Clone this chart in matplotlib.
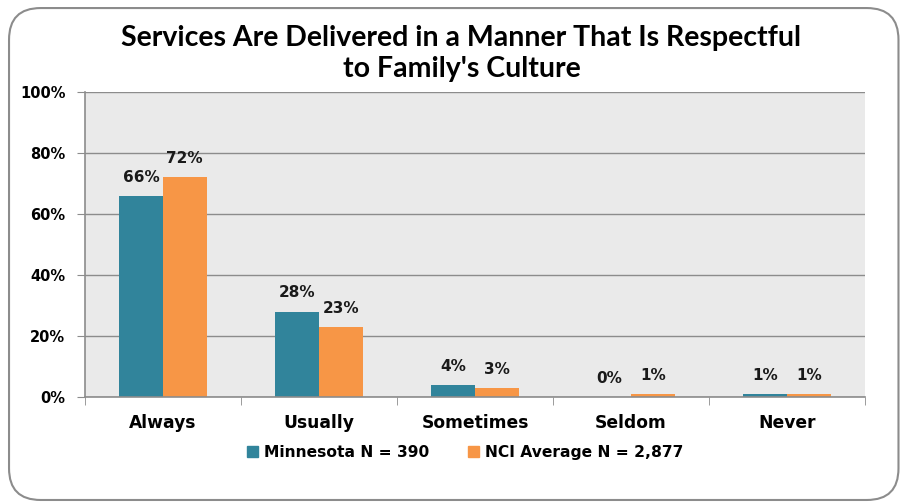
import matplotlib
matplotlib.use('Agg')

import matplotlib.pyplot as plt
from matplotlib.patches import FancyBboxPatch, Patch
import numpy as np

categories = ['Always', 'Usually', 'Sometimes', 'Seldom', 'Never']
minnesota = [66, 28, 4, 0, 1]
nci_avg = [72, 23, 3, 1, 1]
series_names = ['Minnesota N = 390', 'NCI Average N = 2,877']

teal = '#31849B'
orange = '#F79646'

fig = plt.figure(figsize=(9.03, 5.03), dpi=100)

# rounded chart frame
frame = FancyBboxPatch((0.010, 0.006), 0.985, 0.978, boxstyle='round,pad=0,rounding_size=0.035',
                       transform=fig.transFigure, facecolor='white', edgecolor='#8C8C8C',
                       linewidth=1.5, mutation_aspect=903/503, zorder=-5)
fig.patches.append(frame)

ax = fig.add_axes([0.094, 0.211, 0.864, 0.606])
ax.set_zorder(2)
ax.set_facecolor('#EAEAEA')

x = np.arange(len(categories))
w = 0.28
b1 = ax.bar(x - w/2, minnesota, w, color=teal, label=series_names[0], zorder=3)
b2 = ax.bar(x + w/2, nci_avg, w, color=orange, label=series_names[1], zorder=3)

for bars, vals in ((b1, minnesota), (b2, nci_avg)):
    for bar, v in zip(bars, vals):
        ax.annotate(f'{v}%', (bar.get_x() + bar.get_width()/2, v), xytext=(0, 8),
                    textcoords='offset points', ha='center', va='bottom',
                    fontsize=11, fontweight='bold', color='#1A1A1A')

ax.set_xlim(-0.5, len(categories) - 0.5)
ax.set_ylim(0, 100)
ax.set_yticks(range(0, 101, 20))
ax.set_yticklabels([f'{t}%' for t in range(0, 101, 20)], fontsize=10.5, fontweight='bold')
ax.set_xticks(x)
ax.set_xticklabels(categories, fontsize=12.3, fontweight='bold')
ax.tick_params(axis='x', length=0, pad=12)
ax.tick_params(axis='y', length=6, color='#8C8C8C', pad=8)
ax.set_xticks(np.arange(-0.5, len(categories)), minor=True)
ax.tick_params(axis='x', which='minor', length=6, color='#8C8C8C')
ax.grid(axis='y', color='#8C8C8C', linewidth=1, zorder=1)
ax.set_axisbelow(True)
for s in ('top', 'right'):
    ax.spines[s].set_visible(False)
for s in ('left', 'bottom'):
    ax.spines[s].set_color('#8C8C8C')
    ax.spines[s].set_linewidth(1.2)
ax.spines['bottom'].set_zorder(4)

fig.text(0.511, 0.894, "Services Are Delivered in a Manner That Is Respectful\nto Family's Culture",
         ha='center', va='center', fontsize=20.5, fontweight='bold', family='Lato',
         linespacing=1.25)

handles = [Patch(color=teal), Patch(color=orange)]
fig.legend(handles, series_names, loc='center', bbox_to_anchor=(0.515, 0.1), ncol=2,
           frameon=False, prop={'weight': 'bold', 'size': 11.2}, handlelength=0.7,
           handleheight=0.7, columnspacing=2.5, handletextpad=0.4)

fig.savefig('out.png', dpi=100)
